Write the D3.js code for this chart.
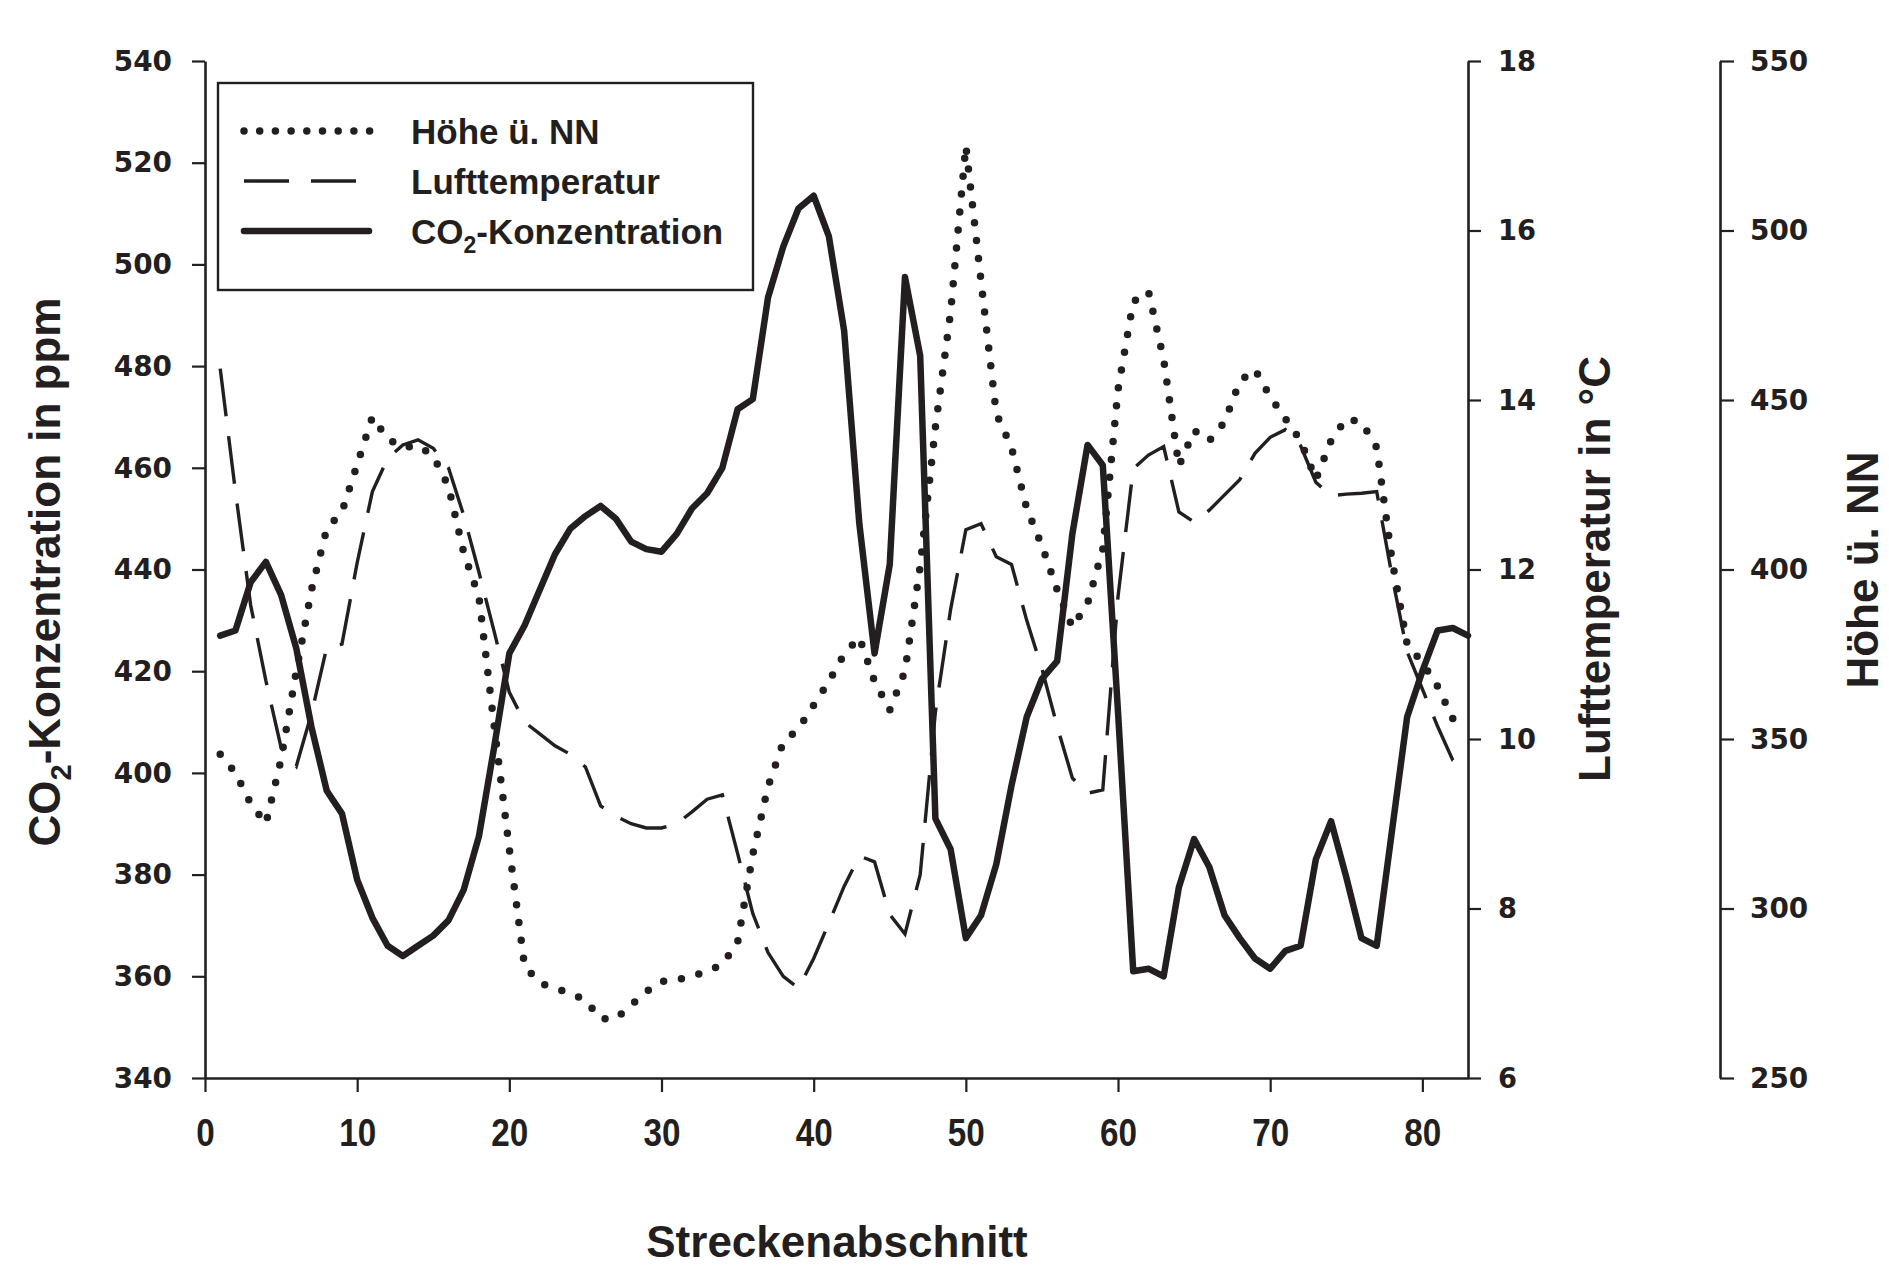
<!DOCTYPE html>
<html>
<head>
<meta charset="utf-8">
<script src="https://cdn.jsdelivr.net/npm/d3@7"></script>
<style>
  html, body { margin: 0; padding: 0; background: #fff; }
  svg { display: block; }
  text { font-family: "Liberation Sans", Arial, sans-serif; font-weight: bold; fill: #231f20; }
</style>
</head>
<body>
<svg id="chart" width="1889" height="1265"></svg>
<script>
// ---------- data ----------
const sections = d3.range(1, 84); // Streckenabschnitt 1..83

const co2 = [427, 428, 437.5, 441.5, 435, 424.5, 409, 396.5, 392, 379,
  371.5, 366, 364, 366, 368, 371, 377, 387.5, 405, 423.5,
  429, 436, 443, 448, 450.5, 452.5, 450, 445.5, 444, 443.5,
  447, 452, 455, 460, 471.5, 473.5, 493.5, 503.5, 511, 513.5,
  505.5, 487, 449, 423.5, 441, 497.5, 482, 391, 385, 367.5,
  372, 382, 397.5, 411, 418.5, 422, 447, 464.5, 460.5, 412,
  361, 361.5, 360, 377.5, 387, 381.5, 372, 367.5, 363.5, 361.5,
  365, 366, 383, 390.5, 379.5, 367.5, 366, 388.5, 411, 420,
  428, 428.5, 427];

const temperature = [14.37, 12.92, 11.58, 10.69, 9.9, 9.68, 10.3, 11.08, 11.12, 12.08,
  12.92, 13.31, 13.47, 13.53, 13.43, 13.2, 12.64, 11.97, 11.27, 10.55,
  10.2, 10.06, 9.92, 9.82, 9.67, 9.21, 9.09, 9.0, 8.95, 8.95,
  9.0, 9.14, 9.29, 9.34, 8.65, 7.94, 7.48, 7.2, 7.06, 7.41,
  7.83, 8.26, 8.62, 8.55, 7.93, 7.7, 8.4, 10.32, 11.53, 12.47,
  12.54, 12.15, 12.06, 11.4, 10.83, 10.15, 9.54, 9.36, 9.4, 11.68,
  13.19, 13.35, 13.45, 12.68, 12.56, 12.7, 12.88, 13.06, 13.37, 13.56,
  13.65, 13.46, 13.03, 12.87, 12.89, 12.9, 12.92, 11.93, 11.03, 10.59,
  10.15, 9.75, 9.62];

const height = [345.5, 340, 331, 325, 344, 370, 394, 412, 417, 431,
  445, 438.5, 436, 436.5, 433.5, 424.5, 405, 392, 354, 317.5,
  283, 278, 276.5, 275, 273, 267.5, 267.5, 271.5, 275.5, 278.5,
  279, 280, 281.5, 283.5, 290, 316, 336, 349, 353, 360,
  367, 375, 380, 367, 358.5, 370, 401, 442, 476, 525,
  485, 446, 436, 418, 407, 394, 383, 390, 406, 453,
  479, 482, 462, 430.5, 441, 438, 443.5, 455.5, 459, 451,
  444.5, 438, 426.5, 438, 444.5, 443.5, 436, 403, 378, 372.5,
  365.5, 356, null];

const xTicks = [0, 10, 20, 30, 40, 50, 60, 70, 80];
const co2Ticks = [340, 360, 380, 400, 420, 440, 460, 480, 500, 520, 540];
const tempTicks = [6, 8, 10, 12, 14, 16, 18];
const heightTicks = [250, 300, 350, 400, 450, 500, 550];

const legendLabels = ["Höhe ü. NN", "Lufttemperatur", "CO2-Konzentration"];

// ---------- layout ----------
const svg = d3.select("#chart");
const ink = "#231f20";
const plotLeft = 205, plotRight = 1468, plotTop = 61, plotBottom = 1078;

const x = d3.scaleLinear().domain([0, 83]).range([plotLeft, plotRight]);
const yC = d3.scaleLinear().domain([340, 540]).range([plotBottom, plotTop]);
const yT = d3.scaleLinear().domain([6, 18]).range([plotBottom, plotTop]);
const yH = d3.scaleLinear().domain([250, 550]).range([plotBottom, plotTop]);

function styleAxis(g, digitW, family) {
  g.select(".domain").attr("stroke", ink).attr("stroke-width", 2.6);
  g.selectAll(".tick line").attr("stroke", ink).attr("stroke-width", 2.2);
  g.selectAll(".tick text")
    .attr("fill", ink)
    .style("font-family", family)
    .style("font-weight", "bold")
    .each(function () {
      const t = d3.select(this);
      t.attr("textLength", t.text().length * digitW).attr("lengthAdjust", "spacingAndGlyphs");
    });
}
const wideFont = '"DejaVu Sans", "Liberation Sans", Arial, sans-serif';
const narrowFont = '"Liberation Sans", Arial, sans-serif';

// left CO2 axis
const gL = svg.append("g").attr("transform", `translate(${plotLeft},0)`)
  .call(d3.axisLeft(yC).tickValues(co2Ticks).tickFormat(d3.format("d"))
    .tickSize(13).tickSizeOuter(0).tickPadding(20));
gL.selectAll(".tick text").style("font-size", "29px");
styleAxis(gL, 19.4, wideFont);

// bottom axis
const gB = svg.append("g").attr("transform", `translate(0,${plotBottom})`)
  .call(d3.axisBottom(x).tickValues(xTicks).tickFormat(d3.format("d"))
    .tickSize(14).tickSizeOuter(0).tickPadding(26));
gB.selectAll(".tick text").style("font-size", "39px");
styleAxis(gB, 18.5, narrowFont);

// right temperature axis
const gR = svg.append("g").attr("transform", `translate(${plotRight},0)`)
  .call(d3.axisRight(yT).tickValues(tempTicks).tickFormat(d3.format("d"))
    .tickSize(13).tickSizeOuter(0).tickPadding(17));
gR.selectAll(".tick text").style("font-size", "29px");
styleAxis(gR, 19.0, wideFont);

// far right height axis
const gH = svg.append("g").attr("transform", `translate(1720,0)`)
  .call(d3.axisRight(yH).tickValues(heightTicks).tickFormat(d3.format("d"))
    .tickSize(14).tickSizeOuter(0).tickPadding(16));
gH.selectAll(".tick text").style("font-size", "29px");
styleAxis(gH, 19.4, wideFont);

// ---------- series ----------
const lineC = d3.line().x((d, i) => x(sections[i])).y(d => yC(d));
const lineT = d3.line().x((d, i) => x(sections[i])).y(d => yT(d));
const lineH = d3.line().defined(d => d != null).x((d, i) => x(sections[i])).y(d => yH(d));

svg.append("path").datum(temperature).attr("d", lineT)
  .attr("fill", "none").attr("stroke", ink).attr("stroke-width", 3.4)
  .attr("stroke-dasharray", "48,20");

svg.append("path").datum(height).attr("d", lineH)
  .attr("fill", "none").attr("stroke", ink).attr("stroke-width", 7.5)
  .attr("stroke-linecap", "round").attr("stroke-dasharray", "0,18");

svg.append("path").datum(co2).attr("d", lineC)
  .attr("fill", "none").attr("stroke", ink).attr("stroke-width", 6.5)
  .attr("stroke-linejoin", "round").attr("stroke-linecap", "round");

// ---------- legend ----------
const lg = svg.append("g");
lg.append("rect").attr("x", 218).attr("y", 83).attr("width", 535).attr("height", 207)
  .attr("fill", "#fff").attr("stroke", ink).attr("stroke-width", 2.4);

const rowsY = [131, 181, 231];
const sampleX0 = 244, sampleX1 = 369;
lg.append("line").attr("x1", sampleX0).attr("x2", sampleX1 + 2).attr("y1", rowsY[0]).attr("y2", rowsY[0])
  .attr("stroke", ink).attr("stroke-width", 7.5).attr("stroke-linecap", "round")
  .attr("stroke-dasharray", "0,15.7");
lg.append("line").attr("x1", sampleX0).attr("x2", 356).attr("y1", rowsY[1]).attr("y2", rowsY[1])
  .attr("stroke", ink).attr("stroke-width", 3.4).attr("stroke-dasharray", "45,22");
lg.append("line").attr("x1", sampleX0).attr("x2", sampleX1).attr("y1", rowsY[2]).attr("y2", rowsY[2])
  .attr("stroke", ink).attr("stroke-width", 6.5).attr("stroke-linecap", "round");

legendLabels.forEach((lab, i) => {
  const t = lg.append("text").attr("x", 411).attr("y", rowsY[i] + 12.5)
    .style("font-size", "35px");
  if (lab.startsWith("CO2")) {
    t.append("tspan").text("CO");
    t.append("tspan").text("2").style("font-size", "23px").attr("dy", 9);
    t.append("tspan").text(lab.slice(3)).attr("dy", -9);
  } else {
    t.text(lab);
  }
});

// ---------- axis titles ----------
const tL = svg.append("text").attr("transform", "translate(60,572) rotate(-90)")
  .attr("text-anchor", "middle").style("font-size", "44px");
tL.append("tspan").text("CO");
tL.append("tspan").text("2").style("font-size", "29px").attr("dy", 11);
tL.append("tspan").text("-Konzentration in ppm").attr("dy", -11);

svg.append("text").attr("transform", "translate(1610,569) rotate(-90)")
  .attr("text-anchor", "middle").style("font-size", "44px").text("Lufttemperatur in °C");

svg.append("text").attr("transform", "translate(1878,570) rotate(-90)")
  .attr("text-anchor", "middle").style("font-size", "44px").text("Höhe ü. NN");

svg.append("text").attr("x", 837).attr("y", 1257)
  .attr("text-anchor", "middle").style("font-size", "44px").text("Streckenabschnitt");
</script>
</body>
</html>
